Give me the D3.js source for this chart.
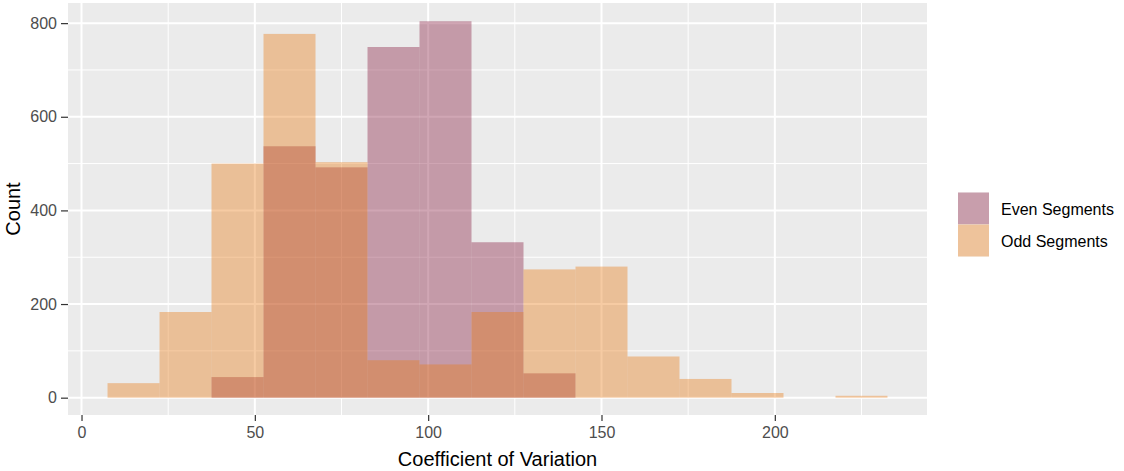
<!DOCTYPE html>
<html>
<head>
<meta charset="utf-8">
<script src="https://cdn.jsdelivr.net/npm/d3@7"></script>
<style>
  body { margin: 0; background: #fff; }
  svg text { font-family: "Liberation Sans", Arial, sans-serif; }
</style>
</head>
<body>
<div id="chart"></div>
<script>
// bins are 15 wide, left edges below
const binStarts = [7.5, 22.5, 37.5, 52.5, 67.5, 82.5, 97.5, 112.5, 127.5, 142.5, 157.5, 172.5, 187.5, 202.5, 217.5];
const binWidth = 15;
const evenCounts = [0, 0, 44, 537, 492, 749, 804, 332, 52, 0, 0, 0, 0, 0, 0];
const oddCounts = [31, 183, 500, 777, 503, 80, 71, 183, 274, 280, 88, 40, 10, 0, 4];
const seriesNames = ['Even Segments', 'Odd Segments'];
const seriesColors = ['#8a2144', '#e87d19'];
const xTicks = [0, 50, 100, 150, 200];
const xMinor = [25, 75, 125, 175, 225];
const yTicks = [0, 200, 400, 600, 800];
const yMinor = [100, 300, 500, 700];

const width = 1124, height = 471;
const panel = {l: 68, r: 927, t: 3, b: 415};

const svg = d3.select('#chart').append('svg')
  .attr('width', width)
  .attr('height', height);

const scaleX = d3.scaleLinear().domain([-3.9, 243.9]).range([panel.l, panel.r]);
const scaleY = d3.scaleLinear().domain([-37, 843]).range([panel.b, panel.t]);

//panel background + grid
svg.append('rect')
  .attr('x', panel.l).attr('y', panel.t)
  .attr('width', panel.r - panel.l).attr('height', panel.b - panel.t)
  .attr('fill', '#ebebeb');

const grid = svg.append('g').attr('class', 'grid').attr('stroke', '#fff');
grid.selectAll('.vminor').data(xMinor).enter().append('line')
  .attr('x1', d => scaleX(d)).attr('x2', d => scaleX(d))
  .attr('y1', panel.t).attr('y2', panel.b).attr('stroke-width', 1);
grid.selectAll('.hminor').data(yMinor).enter().append('line')
  .attr('y1', d => scaleY(d)).attr('y2', d => scaleY(d))
  .attr('x1', panel.l).attr('x2', panel.r).attr('stroke-width', 1);
grid.selectAll('.vmajor').data(xTicks).enter().append('line')
  .attr('x1', d => scaleX(d)).attr('x2', d => scaleX(d))
  .attr('y1', panel.t).attr('y2', panel.b).attr('stroke-width', 2);
grid.selectAll('.hmajor').data(yTicks).enter().append('line')
  .attr('y1', d => scaleY(d)).attr('y2', d => scaleY(d))
  .attr('x1', panel.l).attr('x2', panel.r).attr('stroke-width', 2);

//bars, even first, odd on top
const series = [evenCounts, oddCounts];
series.forEach((counts, si) => {
  const bins = binStarts.map((x0, i) => ({x0: x0, x1: x0 + binWidth, n: counts[i]}))
    .filter(d => d.n > 0);
  svg.append('g').attr('class', 'bars')
    .selectAll('rect').data(bins).enter().append('rect')
    .attr('x', d => scaleX(d.x0))
    .attr('width', d => scaleX(d.x1) - scaleX(d.x0))
    .attr('y', d => scaleY(d.n))
    .attr('height', d => scaleY(0) - scaleY(d.n))
    .attr('fill', seriesColors[si])
    .attr('fill-opacity', 0.4);
});

//axes
const axisX = d3.axisBottom(scaleX).tickValues(xTicks).tickSize(6).tickPadding(6);
const axisY = d3.axisLeft(scaleY).tickValues(yTicks).tickSize(7).tickPadding(4);

const gx = svg.append('g').attr('transform', `translate(0,${panel.b})`).call(axisX);
const gy = svg.append('g').attr('transform', `translate(${panel.l},0)`).call(axisY);
[gx, gy].forEach(g => {
  g.select('.domain').remove();
  g.selectAll('.tick line').attr('stroke', '#333').attr('stroke-width', 1.2);
  g.selectAll('.tick text').attr('fill', '#4d4d4d').style('font-size', '16px');
});

svg.append('text')
  .attr('x', (panel.l + panel.r) / 2).attr('y', 466)
  .attr('text-anchor', 'middle')
  .style('font-size', '20px')
  .text('Coefficient of Variation');

svg.append('text')
  .attr('transform', `translate(19.5,${(panel.t + panel.b) / 2}) rotate(-90)`)
  .attr('text-anchor', 'middle')
  .style('font-size', '20px')
  .text('Count');

//legend
const legend = svg.append('g').attr('transform', 'translate(958,192.5)');
const keys = legend.selectAll('.key').data(seriesNames).enter().append('g')
  .attr('class', 'key')
  .attr('transform', (d, i) => `translate(0,${i * 32})`);
keys.append('rect').attr('width', 31).attr('height', 32).attr('fill', '#f2f2f2');
keys.append('rect').attr('width', 31).attr('height', 32)
  .attr('fill', (d, i) => seriesColors[i]).attr('fill-opacity', 0.4);
keys.append('text')
  .attr('x', 43).attr('y', 22.5)
  .style('font-size', '16px')
  .text(d => d);
</script>
</body>
</html>
